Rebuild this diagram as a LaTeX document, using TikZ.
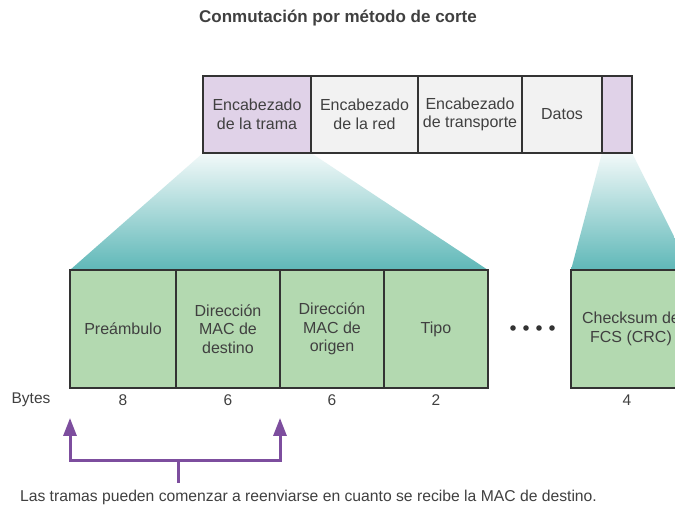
\documentclass[tikz,border=0pt]{standalone}
\usepackage{fontspec}
\setmainfont{Liberation Sans}
\usetikzlibrary{arrows.meta}
\definecolor{purplecell}{HTML}{E0D2E8}
\definecolor{lightcell}{HTML}{F2F2F2}
\definecolor{greencell}{HTML}{B3D9B0}
\definecolor{border}{HTML}{333333}
\definecolor{tealbot}{HTML}{5FB8B8}
\definecolor{tealtop}{HTML}{F2F9F9}
\definecolor{txt}{HTML}{404040}
\definecolor{arrowpurple}{HTML}{7D4E9E}
\tikzset{
  cell/.style={draw=border, line width=2.5pt, inner sep=0pt, outer sep=0pt, align=center,
    text=txt, font=\fontsize{16}{18.5}\selectfont},
  topcell/.style={cell, minimum height=77pt},
  botcell/.style={cell, minimum height=118pt, fill=greencell},
  label/.style={text=txt, inner sep=0pt, font=\fontsize{15.5}{18}\selectfont},
  fan/.style={top color=tealtop, bottom color=tealbot},
  bracket/.style={draw=arrowpurple, line width=3pt, line join=miter},
}
\begin{document}
\begin{tikzpicture}[x=1pt,y=-1pt]
\useasboundingbox (0,0) rectangle (675,510);
\fill[white] (0,0) rectangle (675,510);
\begin{scope}
\clip (0,0) rectangle (675,510);
% title
\node[text=txt, font=\bfseries\fontsize{17}{20}\selectfont] (title) at (338,18) {Conmutación por método de corte};
% fans
\shade[fan] (257-54,153) -- (311,153) -- (488,270) -- (70,270) -- cycle;
% top bar
\node[topcell, fill=purplecell, minimum width=108pt] (t1) at (257,114.5) {Encabezado\\de la trama};
\node[topcell, fill=lightcell, minimum width=107pt] (t2) at (364.5,114.5) {Encabezado\\de la red};
\node[topcell, fill=lightcell, minimum width=104pt] (t3) at (470,114.5) {Encabezado\\de transporte};
\node[topcell, fill=lightcell, minimum width=80pt] (t4) at (562,114.5) {Datos};
\node[topcell, fill=purplecell, minimum width=30pt] (t5) at (617,114.5) {};
% bottom row
\node[botcell, minimum width=106pt] (b1) at (123,329) {Preámbulo};
\node[botcell, minimum width=104pt] (b2) at (228,329) {Dirección\\MAC de\\destino};
\node[botcell, minimum width=104pt] (b3) at (332,329) {Dirección\\MAC de\\origen};
\node[botcell, minimum width=104pt] (b4) at (436,329) {Tipo};
\node[botcell, minimum width=120pt] (b5) at (631,329) {Checksum de\\FCS (CRC)};
\shade[fan] (t5.south west) -- (t5.south east) -- (b5.north east) -- (b5.north west) -- cycle;
% redraw borders on top of fans
\foreach \n in {t1,t2,t3,t4,t5,b1,b2,b3,b4,b5} \draw[border, line width=2.5pt] (\n.south west) rectangle (\n.north east);
% dots
\foreach \x [count=\i] in {513,526,539,552} \fill[border] (\x,328) circle (2.8pt) coordinate (dot\i);
% bytes
\node[label] (bytes) at (31,400) {Bytes};
\node[label] (n1) at (123,400) {8};
\node[label] (n2) at (228,400) {6};
\node[label] (n3) at (332,400) {6};
\node[label] (n4) at (436,400) {2};
\node[label] (n5) at (627,400) {4};
% bracket
\coordinate (al) at (70,418);
\coordinate (ar) at (280,418);
\coordinate (jl) at (70,461);
\coordinate (jr) at (280,461);
\coordinate (jm) at (178,461);
\coordinate (stem) at (178,483);
\draw[bracket, {Triangle[width=13pt,length=18pt]}-{Triangle[width=13pt,length=18pt]}] (al) -- (jl) -- (jr) -- (ar);
\draw[bracket] (jm) -- (stem);
\node[label, font=\fontsize{15.7}{18}\selectfont] (note) at (308.5,497) {Las tramas pueden comenzar a reenviarse en cuanto se recibe la MAC de destino.};
\end{scope}
\end{tikzpicture}
\end{document}
